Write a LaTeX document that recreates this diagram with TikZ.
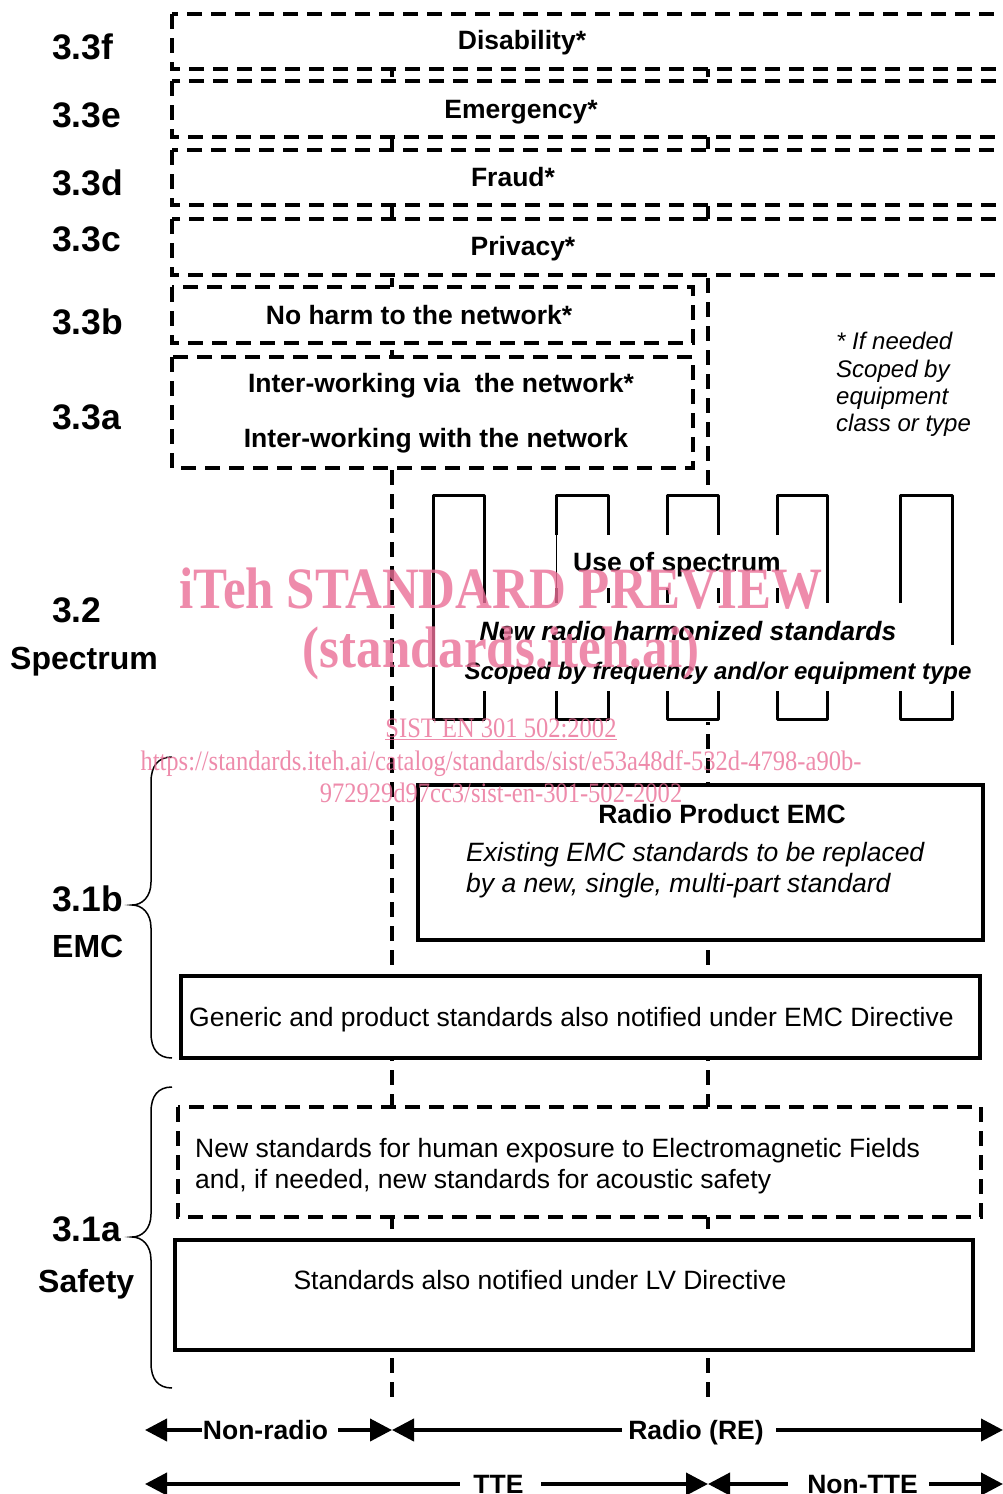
\documentclass[tikz,border=0pt]{standalone}
\usepackage{fontspec}
\setmainfont{Liberation Sans}
\newfontfamily\wmfont[FakeStretch=0.87]{Liberation Serif}
\usetikzlibrary{arrows.meta}
\definecolor{wmpink}{RGB}{234,111,151}
\begin{document}
\begin{tikzpicture}[x=1pt,y=-1pt,
  dbox/.style={draw=black, line width=3.5pt, dash pattern=on 15pt off 9pt, fill=white},
  sbox/.style={draw=black, line width=3.5pt, fill=white},
  dline/.style={draw=black, line width=3.5pt, dash pattern=on 15pt off 9pt},
  tooth/.style={draw=black, line width=3pt, line join=round},
  thin/.style={draw=black, line width=1pt},
  brace/.style={draw=black, line width=1.5pt},
  num/.style={anchor=base west, inner sep=0pt, font=\fontsize{35.5}{40}\selectfont\bfseries},
  cat/.style={anchor=base west, inner sep=0pt, font=\fontsize{32}{36}\selectfont\bfseries},
  btxt/.style={anchor=base, inner sep=0pt, font=\fontsize{26.5}{31}\selectfont\bfseries},
  bitxt/.style={anchor=base, inner sep=0pt, font=\fontsize{26.5}{31}\selectfont\bfseries\itshape},
  rtxt/.style={anchor=base west, inner sep=0pt, font=\fontsize{26.5}{31}\selectfont},
  itxt/.style={anchor=base west, inner sep=0pt, font=\fontsize{26.5}{31}\selectfont\itshape},
  note/.style={anchor=base west, inner sep=0pt, font=\fontsize{24}{27}\selectfont\itshape},
  atxt/.style={anchor=base, fill=white, inner ysep=3pt, font=\fontsize{26.5}{31}\selectfont\bfseries},
  darr/.style={line width=4pt, {Triangle[length=22pt,width=22pt]}-{Triangle[length=22pt,width=22pt]}},
  wmark/.style={anchor=base, inner sep=0pt, text=wmpink, text opacity=0.8}
]
\useasboundingbox (0,0) rectangle (1002,1494);
\fill[white] (0,0) rectangle (1002,1494);

% vertical dashed dividers
\draw[dline] (392,14) -- (392,1405);
\draw[dline] (708,14) -- (708,1405);
\fill[white] (428,492) rectangle (957,722);

% 3.3 boxes
\draw[dbox] (172,14) rectangle (1020,69);
\draw[dbox] (172,81) rectangle (1020,137);
\draw[dbox] (172,150) rectangle (1020,205);
\draw[dbox] (172,219) rectangle (1020,275);
\draw[dbox] (172,287) rectangle (693,343);
\draw[dbox] (172,357) rectangle (693,468);

% spectrum teeth
\draw[tooth] (484,603) -- (484,495) -- (433,495) -- (433,719) -- (484,719) -- (484,691);
\draw[tooth] (556,535) -- (556,495) -- (608,495) -- (608,535);
\draw[tooth] (556,588) -- (556,603);
\draw[tooth] (608,588) -- (608,603);
\draw[thin] (556,535) -- (556,588);
\draw[tooth] (556,691) -- (556,719) -- (608,719) -- (608,691);
\draw[tooth] (667,535) -- (667,495) -- (718,495) -- (718,535);
\draw[tooth] (667,588) -- (667,603);
\draw[tooth] (718,588) -- (718,603);
\draw[tooth] (667,691) -- (667,719) -- (718,719) -- (718,691);
\draw[tooth] (777,535) -- (777,495) -- (827,495) -- (827,603);
\draw[tooth] (777,588) -- (777,603);
\draw[tooth] (777,691) -- (777,719) -- (827,719) -- (827,691);
\draw[tooth] (900,603) -- (900,495) -- (952,495) -- (952,645);
\draw[tooth] (900,691) -- (900,719) -- (952,719) -- (952,691);

% EMC and safety boxes
\draw[sbox] (418,785) rectangle (983,940);
\draw[sbox] (181,976) rectangle (980,1058);
\draw[dbox] (178,1107) rectangle (981,1217);
\draw[sbox] (175,1240) rectangle (973,1350);

% left labels
\node[num] (l3f) at (52,59.7) {3.3f};
\node[num] (l3e) at (52,127.7) {3.3e};
\node[num] (l3d) at (52,195.7) {3.3d};
\node[num] (l3c) at (52,251.7) {3.3c};
\node[num] (l3b) at (52,334.7) {3.3b};
\node[num] (l3a) at (52,429.7) {3.3a};
\node[num] (l32) at (52,622.7) {3.2};
\node[cat] (lspec) at (10,669.5) {Spectrum};
\node[num] (l31b) at (52,911.7) {3.1b};
\node[cat] (lemc) at (52,957.5) {EMC};
\node[num] (l31a) at (52,1241.7) {3.1a};
\node[cat] (lsaf) at (38,1292.5) {Safety};

% box texts
\node[btxt] (tdis) at (522,49) {Disability*};
\node[btxt] (temg) at (521,118) {Emergency*};
\node[btxt] (tfra) at (513,186) {Fraud*};
\node[btxt] (tpri) at (523,255) {Privacy*};
\node[btxt] (tharm) at (419,324.5) {No harm to the network*};
\node[btxt] (tvia) at (441,392.5) {Inter-working via\ \ the network*};
\node[btxt] (twith) at (436,447.5) {Inter-working with the network};

\node[note] (n1) at (836,349.6) {* If needed};
\node[note] (n2) at (836,377) {Scoped by};
\node[note] (n3) at (836,404.3) {equipment};
\node[note] (n4) at (836,431.6) {class or type};

\node[btxt] (tuse) at (677,571.5) {Use of spectrum};
\node[bitxt] (tnew) at (688,640.5) {New radio harmonized standards};
\node[anchor=base, inner sep=0pt, font=\fontsize{24}{28}\selectfont\bfseries\itshape] (tscope) at (718,679) {Scoped by frequency and/or equipment type};

\node[btxt] (trpe) at (722,823.5) {Radio Product EMC};
\node[itxt] (tex1) at (466,861.5) {Existing EMC standards to be replaced};
\node[itxt] (tex2) at (466,892.5) {by a new, single, multi-part standard};
\node[rtxt] (tgen) at (189,1026.5) {Generic and product standards also notified under EMC Directive};
\node[rtxt] (thum1) at (195,1157.5) {New standards for human exposure to Electromagnetic Fields};
\node[rtxt] (thum2) at (195,1188.5) {and, if needed, new standards for acoustic safety};
\node[anchor=base, inner sep=0pt, font=\fontsize{26.5}{31}\selectfont] (tlv) at (540,1289.5) {Standards also notified under LV Directive};

% braces
\draw[brace] (172,757) .. controls (158,757) and (151,766) .. (151,782) -- (151,882)
  .. controls (151,897) and (142,905) .. (132,905)
  .. controls (142,905) and (151,913) .. (151,928) -- (151,1033)
  .. controls (151,1049) and (158,1058) .. (172,1058);
\draw[brace] (172,1087) .. controls (158,1087) and (151,1096) .. (151,1112) -- (151,1214)
  .. controls (151,1229) and (142,1237) .. (132,1237)
  .. controls (142,1237) and (151,1245) .. (151,1260) -- (151,1363)
  .. controls (151,1379) and (158,1388) .. (172,1388);

% bottom arrows
\coordinate (a1) at (145,1430);
\coordinate (a2) at (392,1430);
\coordinate (a3) at (1003,1430);
\coordinate (b1) at (145,1484);
\coordinate (b2) at (708,1484);
\coordinate (b3) at (1003,1484);
\draw[darr] (a1) -- (a2);
\draw[darr] (a2) -- (a3);
\draw[darr] (b1) -- (b2);
\draw[darr] (b2) -- (b3);
\node[atxt, inner xsep=1pt] (lnr) at (270,1439.5) {Non-radio\kern9pt};
\node[atxt, inner xsep=6pt] (lre) at (699,1439.5) {Radio (RE)\kern6pt};
\node[atxt, inner xsep=13pt] (ltte) at (500.5,1493.5) {TTE\kern4pt};
\node[atxt, inner xsep=11pt] (lntte) at (858.5,1493.5) {\kern8pt Non-TTE};

% watermark
\node[wmark, font=\wmfont\bfseries\fontsize{58.6}{62}\selectfont] (w1) at (501,608) {iTeh STANDARD PREVIEW};
\node[wmark, font=\wmfont\bfseries\fontsize{58.6}{62}\selectfont] (w2) at (501,667) {(standards.iteh.ai)};
\node[wmark, font=\wmfont\fontsize{28.2}{30}\selectfont] (w3) at (501,737) {\underline{SIST EN 301 502:2002}};
\node[wmark, font=\wmfont\fontsize{28.2}{30}\selectfont] (w4) at (501,770) {https://standards.iteh.ai/catalog/standards/sist/e53a48df-532d-4798-a90b-};
\node[wmark, font=\wmfont\fontsize{28.2}{30}\selectfont] (w5) at (501,802) {972929d97cc3/sist-en-301-502-2002};
\end{tikzpicture}
\end{document}
